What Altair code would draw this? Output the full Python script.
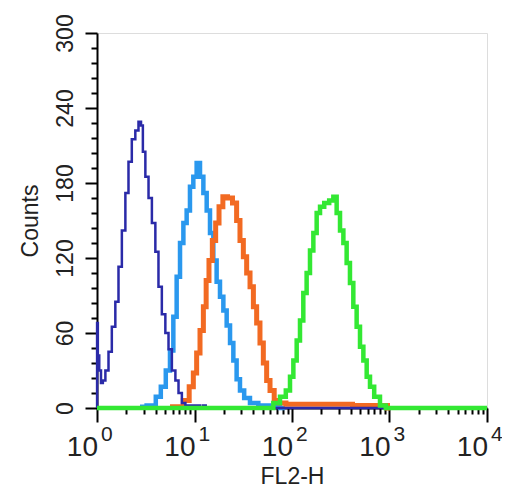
import altair as alt
import pandas as pd

# x positions are log10(FL2-H), y are counts
navy_lx = [0.000, 0.002, 0.015, 0.031, 0.051, 0.069, 0.103, 0.133, 0.171, 0.205, 0.236, 0.274,
           0.308, 0.338, 0.376, 0.410, 0.441, 0.462, 0.479, 0.513, 0.544, 0.582, 0.615, 0.646,
           0.684, 0.718, 0.749, 0.787, 0.821, 0.851, 0.890, 0.923, 0.94, 0.97, 0.99, 1.02,
           1.04, 1.07, 1.10, 1.13, 4.0]
navy_ct = [0, 68, 42, 30, 20, 22, 30, 45, 65, 85, 113, 142,
           172, 197, 215, 222, 229, 226, 205, 185, 168, 148, 125, 97,
           75, 60, 47, 30, 22, 12, 4, 0, 2, 0, 2, 0,
           2, 0, 2, 0, 0]

sky_lx = [0.441, 0.577, 0.629, 0.680, 0.731, 0.766, 0.800, 0.834, 0.869, 0.903, 0.936, 0.971,
          1.005, 1.039, 1.074, 1.108, 1.142, 1.176, 1.210, 1.244, 1.279, 1.313, 1.347, 1.382,
          1.415, 1.449, 1.484, 1.535, 1.603, 1.706, 1.826, 1.928]
sky_ct = [1, 2, 9, 17, 30, 46, 73, 105, 132, 148, 158, 177,
          185, 196, 185, 172, 158, 140, 118, 101, 89, 78, 66, 52,
          38, 23, 14, 8, 4, 2, 1, 0]

orange_lx = [0.749, 0.851, 0.920, 0.971, 1.005, 1.039, 1.074, 1.108, 1.131, 1.166, 1.200, 1.234,
             1.269, 1.313, 1.364, 1.415, 1.449, 1.484, 1.518, 1.552, 1.587, 1.621, 1.654, 1.689,
             1.723, 1.757, 1.792, 1.843, 1.897, 1.979, 2.595, 2.646, 2.954, 3.005]
orange_ct = [1, 1, 6, 17, 28, 44, 62, 81, 102, 118, 134, 148,
             161, 169, 168, 164, 150, 134, 121, 108, 97, 81, 68, 52,
             36, 22, 14, 6, 4, 3, 3, 2, 2, 0]

green_lx = [0.0, 1.774, 1.843, 1.911, 1.962, 1.997, 2.031, 2.065, 2.099, 2.133, 2.167, 2.202,
            2.236, 2.270, 2.305, 2.356, 2.407, 2.441, 2.475, 2.510, 2.544, 2.577, 2.612, 2.646,
            2.680, 2.715, 2.749, 2.783, 2.817, 2.869, 2.936, 2.988, 4.0]
green_ct = [0, 0, 4, 9, 14, 25, 38, 54, 70, 92, 108, 126,
            140, 156, 161, 164, 166, 169, 156, 142, 132, 116, 100, 81,
            65, 49, 38, 25, 17, 9, 2, 0, 0]

decades = [0, 1, 2, 3, 4]
y_ticks = list(range(0, 301, 12))
x_ticks = [k * 10 ** d for d in range(4) for k in range(1, 10)] + [10000]

NARROW = "Liberation Sans Narrow, Arial Narrow, Liberation Sans, sans-serif"
SANS = "Liberation Sans, Arial, sans-serif"

x_axis = alt.Axis(
    values=x_ticks, labels=False, grid=False, domain=True, domainColor="#000", domainWidth=2,
    tickColor="#000", tickWidth=2,
    tickSize={"condition": {"test": "indexof([1,10,100,1000,10000], datum.value) >= 0", "value": 14}, "value": 6},
    title="FL2-H", titleFont=SANS, titleFontSize=23, titleFontWeight="normal", titleColor="#222",
    titleY=75, titleBaseline="alphabetic",
)
y_axis = alt.Axis(
    values=y_ticks, grid=False, domain=True, domainColor="#000", domainWidth=2,
    tickColor="#000", tickWidth=2,
    tickSize={"condition": {"test": "datum.value % 60 === 0", "value": 12}, "value": 6},
    labelExpr="datum.value % 60 === 0 ? datum.label : ''",
    labelAngle=270, labelFont=NARROW, labelFontSize=23, labelColor="#222",
    labelBaseline="alphabetic", labelAlign="center", labelPadding=13,
    labelOverlap=False, labelBound=False, labelFlush=False,
    title="Counts", titleFont=SANS, titleFontSize=23, titleFontWeight="normal", titleColor="#222",
    titleAngle=270, titleX=-60, titleBaseline="alphabetic",
)

xs = alt.Scale(type="log", domain=[1, 10000], nice=False)
ys = alt.Scale(domain=[0, 300], nice=False, zero=True)


def series(lx, ct, color, width):
    df = pd.DataFrame({"lx": lx, "count": ct})
    return alt.Chart(df).transform_calculate(fl="pow(10, datum.lx)").mark_line(
        color=color, strokeWidth=width, interpolate="step"
    ).encode(
        x=alt.X("fl:Q", scale=xs, axis=x_axis),
        y=alt.Y("count:Q", scale=ys, axis=y_axis),
    )


lab = pd.DataFrame({"d": decades, "e": [str(d) for d in decades]})
base_lab = alt.Chart(lab).transform_calculate(fl="pow(10, datum.d)").mark_text(
    text="10", align="right", baseline="alphabetic", dx=1, font=NARROW, fontSize=28, color="#222"
).encode(x=alt.X("fl:Q", scale=xs, axis=x_axis), y=alt.value(423))
exp_lab = alt.Chart(lab).transform_calculate(fl="pow(10, datum.d)").mark_text(
    align="left", baseline="alphabetic", dx=4, font=NARROW, fontSize=21, color="#222"
).encode(x=alt.X("fl:Q", scale=xs, axis=x_axis), y=alt.value(408), text="e:N")

chart = alt.layer(
    series(sky_lx, sky_ct, "#2a98ee", 4.5),
    series(orange_lx, orange_ct, "#f26a22", 5),
    series(navy_lx, navy_ct, "#2a2aa8", 2.5),
    series(green_lx, green_ct, "#33e833", 4.5),
    base_lab,
    exp_lab,
).properties(
    width=390, height=375,
    autosize=alt.AutoSizeParams(type="none"),
    padding={"left": 89, "top": 25, "right": 15, "bottom": 86},
).configure_view(stroke="#808080", strokeWidth=2).configure(background="white")

chart.save("out.html", embed_options={"renderer": "svg", "actions": False})
